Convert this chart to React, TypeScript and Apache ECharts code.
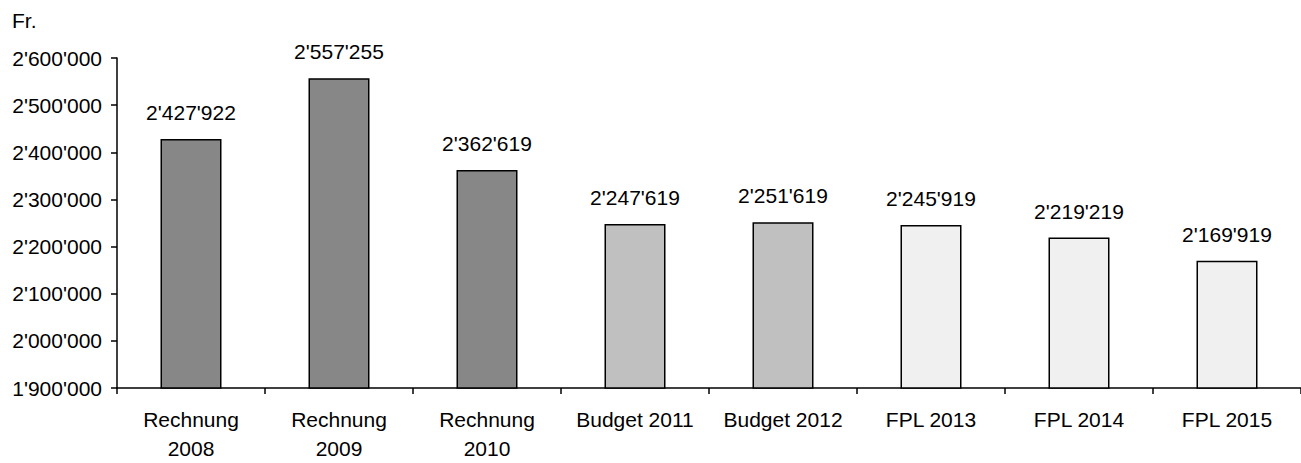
import React, { useEffect, useRef } from "react";
import * as echarts from "echarts";

const categories = [
  "Rechnung\n2008",
  "Rechnung\n2009",
  "Rechnung\n2010",
  "Budget 2011",
  "Budget 2012",
  "FPL 2013",
  "FPL 2014",
  "FPL 2015",
];
const values = [2427922, 2557255, 2362619, 2247619, 2251619, 2245919, 2219219, 2169919];
const barColors = ["#878787", "#878787", "#878787", "#c0c0c0", "#c0c0c0", "#f0f0f0", "#f0f0f0", "#f0f0f0"];
const unitLabel = "Fr.";
const yMin = 1900000;
const yMax = 2600000;
const yStep = 100000;

const fmt = (v: number) => String(Math.round(v)).replace(/\B(?=(\d{3})+(?!\d))/g, "'");

const FONT = "Liberation Sans, Arial, sans-serif";

export default function App() {
  const ref = useRef<HTMLDivElement>(null);
  useEffect(() => {
    if (!ref.current) return;
    const chart = echarts.init(ref.current, undefined, { renderer: "svg" });
    chart.setOption({
      animation: false,
      backgroundColor: "#ffffff",
      textStyle: { fontFamily: FONT },
      graphic: [
        {
          type: "text",
          left: 12,
          top: 10,
          style: { text: unitLabel, fontSize: 21, fontFamily: FONT, fill: "#000" },
        },
      ],
      grid: { left: 117, right: -8, top: 58, bottom: 71 },
      xAxis: {
        type: "category",
        data: categories,
        axisLine: { lineStyle: { color: "#000", width: 1.5 } },
        axisTick: { show: true, length: 6, alignWithLabel: false, lineStyle: { color: "#000", width: 1.5 } },
        axisLabel: { color: "#000", fontSize: 21, fontFamily: FONT, lineHeight: 29, margin: 17, interval: 0 },
      },
      yAxis: {
        type: "value",
        min: yMin,
        max: yMax,
        interval: yStep,
        splitLine: { show: false },
        axisLine: { show: true, lineStyle: { color: "#000", width: 1.5 } },
        axisTick: { show: true, length: 6, lineStyle: { color: "#000", width: 1.5 } },
        axisLabel: { color: "#000", fontSize: 21, fontFamily: FONT, margin: 15, formatter: (v: number) => fmt(v) },
      },
      series: [
        {
          type: "bar",
          data: values.map((v, i) => ({
            value: v,
            itemStyle: { color: barColors[i], borderColor: "#000", borderWidth: 1.5 },
          })),
          barWidth: 61,
          label: {
            show: true,
            position: "top",
            distance: 16,
            color: "#000",
            fontSize: 21,
            fontFamily: FONT,
            formatter: (p: any) => fmt(p.value),
          },
        },
      ],
    });
    return () => chart.dispose();
  }, []);
  return (
    <div
      ref={ref}
      style={{ position: "fixed", left: 0, top: 0, width: 1301, height: 463, background: "#fff" }}
    />
  );
}
